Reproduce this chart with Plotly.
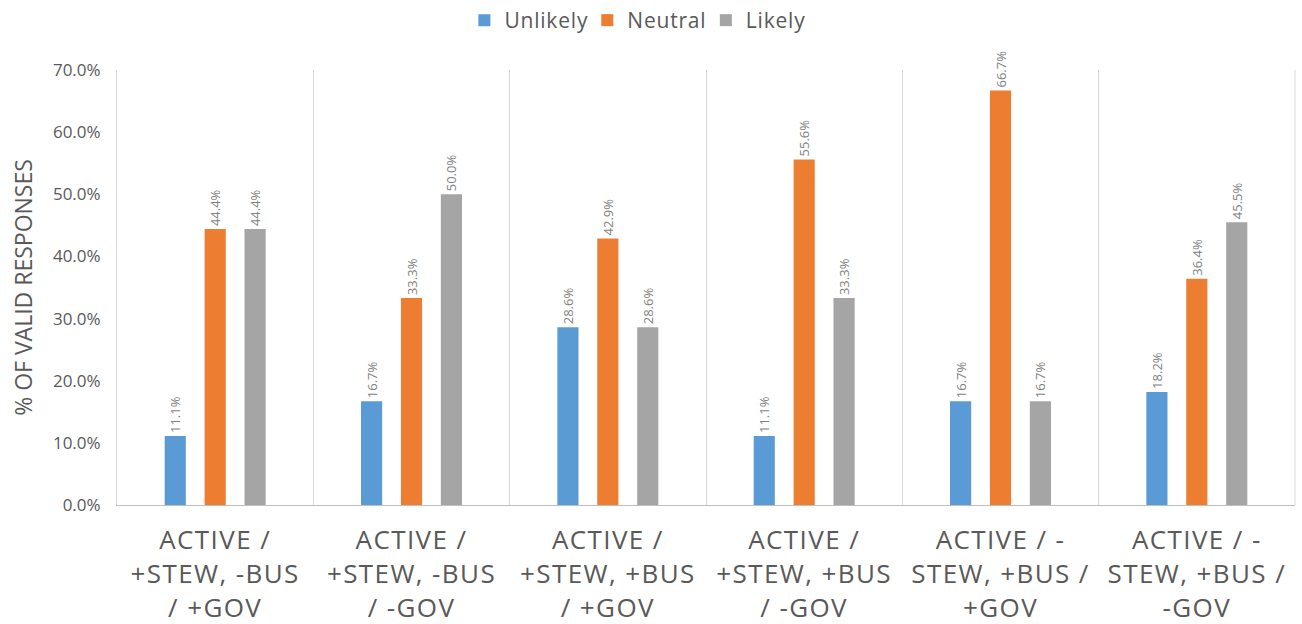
import plotly.graph_objects as go

categories = [
    "ACTIVE /<br>+STEW, -BUS<br>/ +GOV",
    "ACTIVE /<br>+STEW, -BUS<br>/ -GOV",
    "ACTIVE /<br>+STEW, +BUS<br>/ +GOV",
    "ACTIVE /<br>+STEW, +BUS<br>/ -GOV",
    "ACTIVE / -<br>STEW, +BUS /<br>+GOV",
    "ACTIVE / -<br>STEW, +BUS /<br>-GOV",
]
unlikely = [11.1, 16.7, 28.6, 11.1, 16.7, 18.2]
neutral = [44.4, 33.3, 42.9, 55.6, 66.7, 36.4]
likely = [44.4, 50.0, 28.6, 33.3, 16.7, 45.5]

series = [
    ("Unlikely", unlikely, "#5B9BD5"),
    ("Neutral", neutral, "#ED7D31"),
    ("Likely", likely, "#A5A5A5"),
]

FONT = "Open Sans"
GREY = "#595959"

fig = go.Figure()
for name, vals, color in series:
    fig.add_trace(go.Bar(
        name=name,
        x=categories,
        y=vals,
        marker=dict(color=color, line=dict(width=0)),
        text=[f"{v:.1f}%" for v in vals],
        textposition="outside",
        textangle=-90,
        textfont=dict(family=FONT, size=13, color="#7F7F7F"),
        cliponaxis=False,
    ))

fig.update_layout(
    width=1302,
    height=624,
    barmode="group",
    bargap=0.39,
    bargroupgap=0.47,
    plot_bgcolor="white",
    paper_bgcolor="white",
    margin=dict(l=117, r=7, t=70, b=119),
    font=dict(family=FONT, color=GREY),
    uniformtext=dict(minsize=13, mode="show"),
    legend=dict(
        orientation="h",
        xref="container",
        x=0.488,
        xanchor="center",
        yref="container",
        y=1.0,
        yanchor="top",
        font=dict(family=FONT, size=21, color=GREY),
        itemwidth=30,
        traceorder="normal",
    ),
    xaxis=dict(
        type="category",
        automargin=False,
        tickson="boundaries",
        showgrid=True,
        gridcolor="#D9D9D9",
        gridwidth=1,
        showline=True,
        linecolor="#BFBFBF",
        linewidth=1,
        mirror=False,
        ticks="",
        ticklabelstandoff=12,
        tickfont=dict(family=FONT, size=26, color=GREY),
    ),
    yaxis=dict(
        range=[0, 70],
        dtick=10,
        automargin=False,
        showgrid=False,
        zeroline=False,
        showline=True,
        linecolor="#D9D9D9",
        linewidth=1,
        ticks="",
        ticksuffix="%",
        tickformat=".1f",
        ticklabelstandoff=12,
        tickfont=dict(family=FONT, size=17, color=GREY),
        title=dict(text="% OF VALID RESPONSES",
                   font=dict(family=FONT, size=23, color=GREY),
                   standoff=13),
    ),
)

# right-hand boundary line of the last category
fig.add_shape(type="line", xref="paper", yref="paper", x0=1, x1=1, y0=0, y1=1,
              line=dict(color="#D9D9D9", width=1))

# wider tracking for the category labels and legend text
spacing_css = (
    "var s=document.createElement('style');"
    "s.textContent='.xtick text{letter-spacing:1.4px} .legendtext{letter-spacing:0.8px}';"
    "document.head.appendChild(s);"
)
fig.write_html("out.html", post_script=spacing_css)
